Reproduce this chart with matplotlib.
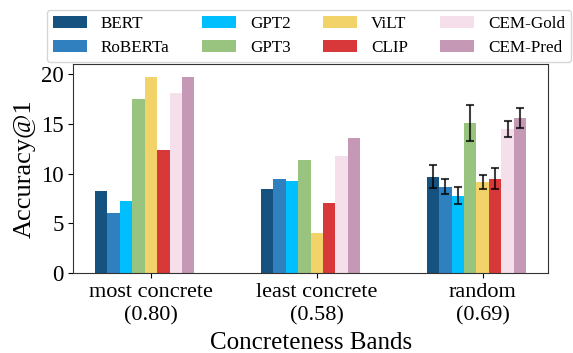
import numpy as np
import matplotlib
matplotlib.use("Agg")
from matplotlib import pyplot as plt

plt.rcParams["font.family"] = ["Liberation Serif", "DejaVu Serif"]

bands = ["most concrete\n(0.80)", "least concrete\n(0.58)", "random\n(0.69)"]
models = ["BERT", "RoBERTa", "GPT2", "GPT3", "ViLT", "CLIP", "CEM-Gold", "CEM-Pred"]
colors = ["#15527f", "#3080c0", "#00bfff", "#99c47f", "#f2d36a", "#d9383a", "#f5dfea", "#c598b5"]

# accuracy per model, one value per band
bert = [8.3, 8.5, 9.7]
roberta = [6.1, 9.5, 8.7]
gpt2 = [7.3, 9.3, 7.8]
gpt3 = [17.5, 11.4, 15.1]
vilt = [19.7, 4.0, 9.2]
clip = [12.4, 7.1, 9.5]
cem_gold = [18.1, 11.8, 14.5]
cem_pred = [19.7, 13.6, 15.6]

# std only for the random band
random_err = [1.15, 0.75, 0.87, 1.8, 0.7, 1.05, 0.78, 1.0]

scores = [bert, roberta, gpt2, gpt3, vilt, clip, cem_gold, cem_pred]

fig, ax = plt.subplots(figsize=(5.73, 3.53), dpi=100)
x = np.arange(len(bands))
w = 0.075

for i, (name, vals) in enumerate(zip(models, scores)):
    ax.bar(x + (i - 4) * w, vals, w, color=colors[i], label=name)
    ax.errorbar(x[2] + (i - 4) * w, vals[2], yerr=random_err[i], fmt="none",
                ecolor="black", capsize=3, elinewidth=1.5, capthick=1.5, alpha=0.75)

ax.set_xticks(x)
ax.set_xticklabels(bands, fontsize=16, linespacing=1.3)
ax.set_yticks([0, 5, 10, 15, 20])
ax.tick_params(axis="y", labelsize=16.5)
ax.set_ylim(0, 21)
ax.set_ylabel("Accuracy@1", fontsize=19)
ax.set_xlabel("Concreteness Bands", fontsize=18, labelpad=5)
for s in ax.spines.values():
    s.set_color("#333333")

fig.legend(loc="upper left", bbox_to_anchor=(0.082, 0.972), ncol=4, fontsize=12.3,
           handlelength=2.0, handletextpad=0.8, columnspacing=1.9, frameon=True,
           borderaxespad=0, borderpad=0.35)

fig.subplots_adjust(left=0.128, right=0.956, top=0.818, bottom=0.226)
plt.savefig("out.png")
